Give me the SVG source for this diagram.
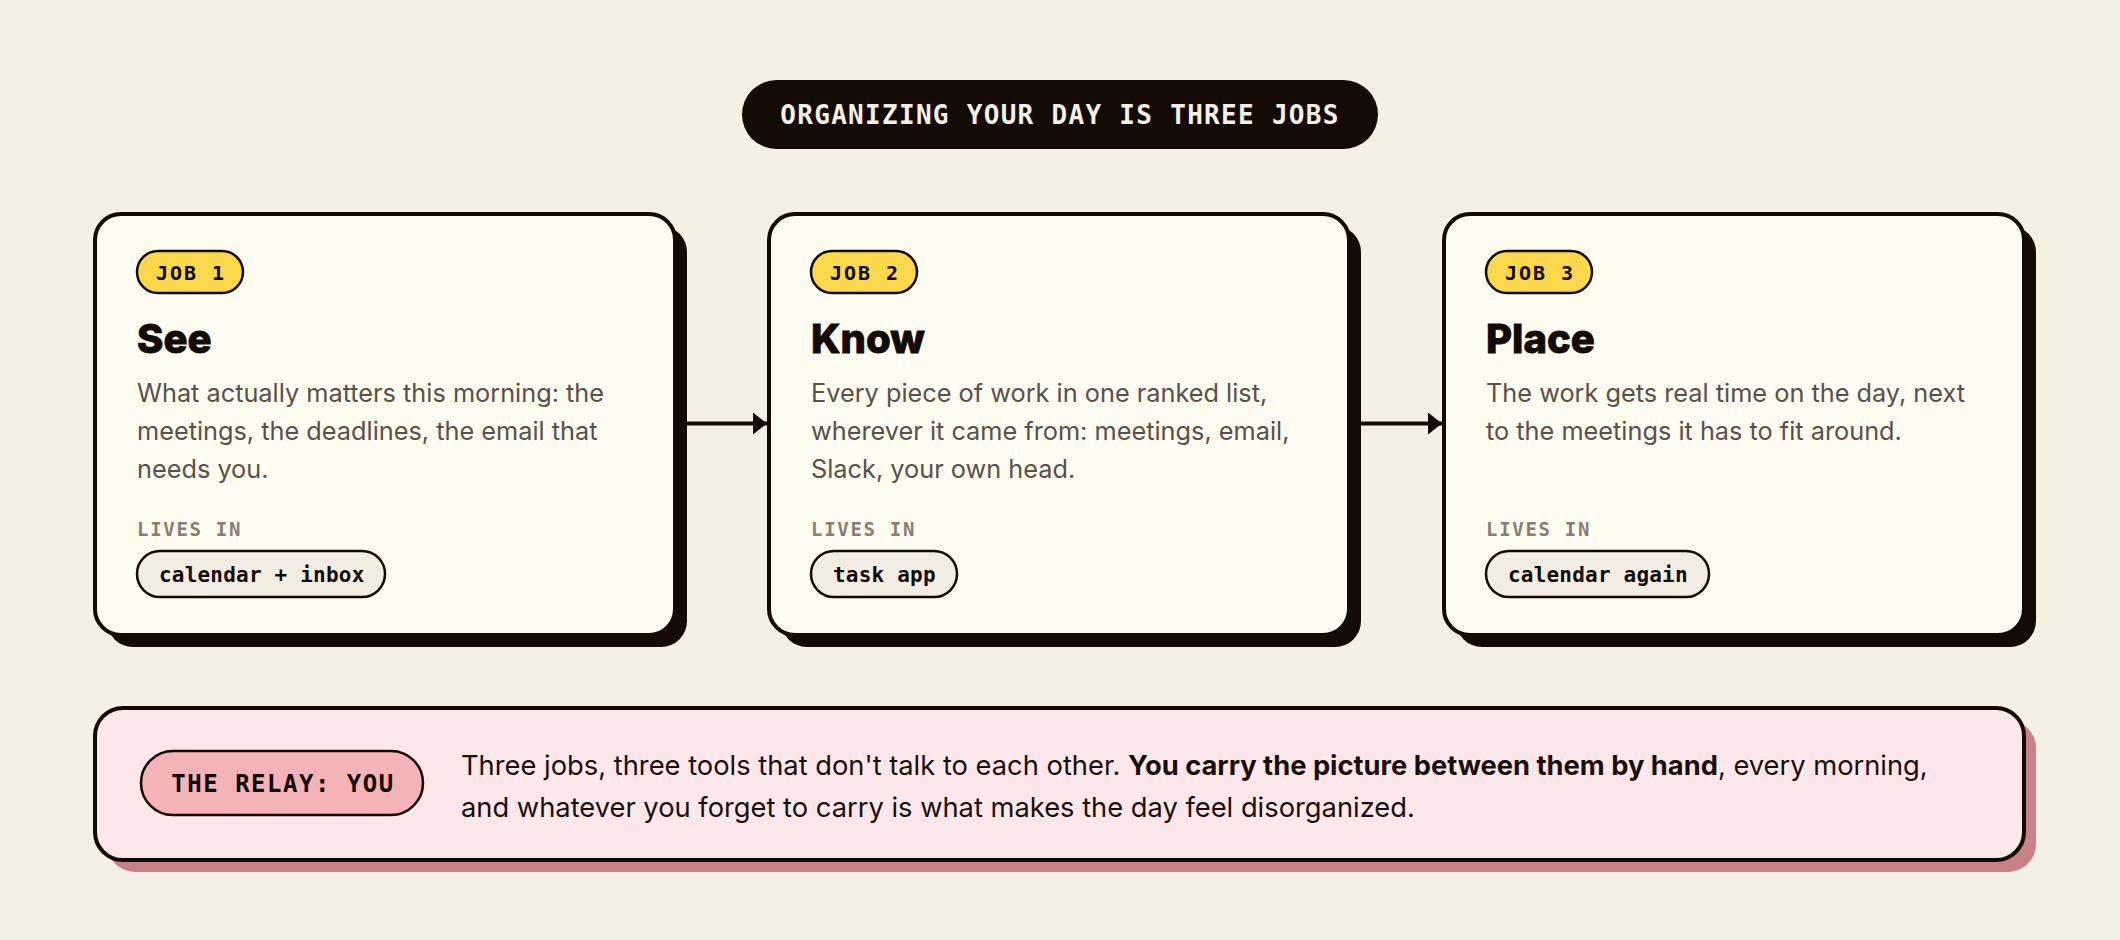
<svg xmlns="http://www.w3.org/2000/svg" width="2120" height="940" viewBox="0 0 2120 940">
<defs>
<style>
.bg{fill:#f5f0e4}
.card{fill:#fffdf2;stroke:#140a04;stroke-width:4}
.shadow{fill:#140a04}
.jobpill{fill:#f9d84b;stroke:#140a04;stroke-width:2.5}
.toolpill{fill:#f2ede2;stroke:#140a04;stroke-width:2.5}
.mono{font-family:"DejaVu Sans Mono","Liberation Mono",monospace;font-weight:bold}
.sans{font-family:Inter,"Noto Sans","Liberation Sans",sans-serif}
.jobtxt{font-size:20px;letter-spacing:2px;fill:#140a04}
.h{font-size:40px;font-weight:800;fill:#140a04;stroke:#140a04;stroke-width:0.9px}
.body{font-size:25.3px;fill:#5b5047}
.lives{font-size:19px;letter-spacing:1.7px;fill:#8a7e73}
.tooltxt{font-size:21px;letter-spacing:0.2px;fill:#140a04}
.conn{stroke:#140a04;stroke-width:4;fill:none}
</style>
<marker id="ah" markerUnits="userSpaceOnUse" markerWidth="14" markerHeight="22" refX="14" refY="11" orient="auto">
<path d="M0,0 L14,11 L0,22 Z" fill="#140a04"/>
</marker>
</defs>
<rect class="bg" x="0" y="0" width="2120" height="940"/>

<g id="title">
<rect x="742" y="80" width="636" height="69" rx="34.5" fill="#140a04"/>
<text class="mono" x="1060" y="124" text-anchor="middle" font-size="26" letter-spacing="1.3" fill="#f5f0e4">ORGANIZING YOUR DAY IS THREE JOBS</text>
</g>

<g id="connectors">
<line class="conn" x1="687" y1="423.5" x2="767" y2="423.5" marker-end="url(#ah)"/>
<line class="conn" x1="1361" y1="423.5" x2="1442" y2="423.5" marker-end="url(#ah)"/>
</g>

<g id="job1">
<rect class="shadow" x="107" y="226" width="580" height="421" rx="26"/>
<rect class="card" x="95" y="214" width="580" height="421" rx="26"/>
<rect class="jobpill" x="137" y="251" width="106" height="42" rx="21"/>
<text class="mono jobtxt" x="191" y="280" text-anchor="middle">JOB 1</text>
<text class="sans h" x="137" y="353">See</text>
<text class="sans body" x="137" y="402">What actually matters this morning: the</text>
<text class="sans body" x="137" y="440">meetings, the deadlines, the email that</text>
<text class="sans body" x="137" y="478">needs you.</text>
<text class="mono lives" x="137" y="536">LIVES IN</text>
<rect class="toolpill" x="137" y="551" width="248" height="46" rx="23"/>
<text class="mono tooltxt" x="159" y="582">calendar + inbox</text>
</g>

<g id="job2">
<rect class="shadow" x="781" y="226" width="580" height="421" rx="26"/>
<rect class="card" x="769" y="214" width="580" height="421" rx="26"/>
<rect class="jobpill" x="811" y="251" width="106" height="42" rx="21"/>
<text class="mono jobtxt" x="865" y="280" text-anchor="middle">JOB 2</text>
<text class="sans h" x="811" y="353">Know</text>
<text class="sans body" x="811" y="402">Every piece of work in one ranked list,</text>
<text class="sans body" x="811" y="440">wherever it came from: meetings, email,</text>
<text class="sans body" x="811" y="478">Slack, your own head.</text>
<text class="mono lives" x="811" y="536">LIVES IN</text>
<rect class="toolpill" x="811" y="551" width="146" height="46" rx="23"/>
<text class="mono tooltxt" x="833" y="582">task app</text>
</g>

<g id="job3">
<rect class="shadow" x="1456" y="226" width="580" height="421" rx="26"/>
<rect class="card" x="1444" y="214" width="580" height="421" rx="26"/>
<rect class="jobpill" x="1486" y="251" width="106" height="42" rx="21"/>
<text class="mono jobtxt" x="1540" y="280" text-anchor="middle">JOB 3</text>
<text class="sans h" x="1486" y="353">Place</text>
<text class="sans body" x="1486" y="402">The work gets real time on the day, next</text>
<text class="sans body" x="1486" y="440">to the meetings it has to fit around.</text>
<text class="mono lives" x="1486" y="536">LIVES IN</text>
<rect class="toolpill" x="1486" y="551" width="223" height="46" rx="23"/>
<text class="mono tooltxt" x="1508" y="582">calendar again</text>
</g>

<g id="relay">
<rect x="107" y="720" width="1929" height="152" rx="28" fill="#c98086"/>
<rect x="95" y="708" width="1929" height="152" rx="28" fill="#fce8ea" stroke="#140a04" stroke-width="4"/>
<rect x="141" y="751" width="282" height="64" rx="32" fill="#f4b3b7" stroke="#140a04" stroke-width="2.5"/>
<text class="mono" x="283" y="792" text-anchor="middle" font-size="24" letter-spacing="1.5" fill="#140a04">THE RELAY: YOU</text>
<text class="sans" x="461" y="775" font-size="27.3" fill="#1a0f08">Three jobs, three tools that don't talk to each other. <tspan font-weight="bold">You carry the picture between them by hand</tspan>, every morning,</text>
<text class="sans" x="461" y="817" font-size="27.3" fill="#1a0f08">and whatever you forget to carry is what makes the day feel disorganized.</text>
</g>
</svg>
